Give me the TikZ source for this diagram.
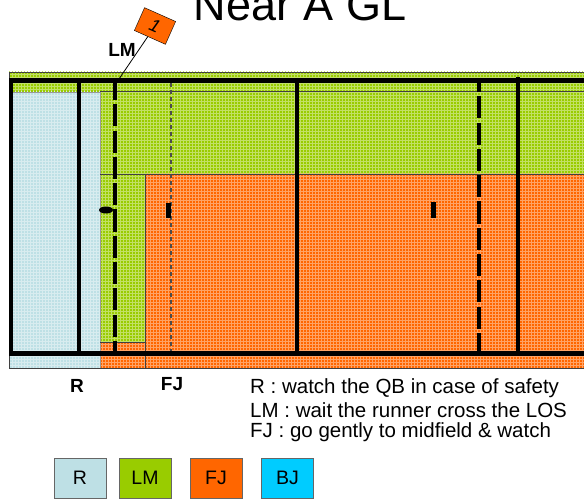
\documentclass[tikz,border=0pt]{standalone}
\usepackage{fontspec}
\setmainfont{Liberation Sans}
\usetikzlibrary{patterns}

\definecolor{rblue}{HTML}{BEE0E5}
\definecolor{lmgreen}{HTML}{99CC00}
\definecolor{fjorange}{HTML}{FF6600}
\definecolor{bjblue}{HTML}{00CCFF}

\begin{document}
\begin{tikzpicture}[x=1pt, y=-1pt,
    zone/.style={fill=#1, postaction={pattern=grid, pattern color=white!40!#1}},
    border/.style={draw=black!75, line width=.8pt},
    bigline/.style={line width=4pt},
    dashline/.style={line width=4pt, dash pattern=on 22pt off 4.3pt},
    legendbox/.style={draw=black!60, line width=1pt, minimum width=52pt, minimum height=40pt,
      inner sep=0pt, font=\fontsize{19.5}{20}\selectfont},
    official/.style={font=\fontsize{19}{20}\selectfont\bfseries},
    note/.style={anchor=west, inner sep=0pt, font=\fontsize{20.5}{22}\selectfont}]
    \useasboundingbox (0,0) rectangle (584,500);

    % 色の領域
    \fill[zone=lmgreen] (9,72) rectangle (586,92);
    \fill[zone=lmgreen] (100,92) rectangle (586,174);
    \fill[zone=lmgreen] (100,174) rectangle (145,342);
    \fill[zone=rblue] (9,92) rectangle (100,368);
    \fill[zone=fjorange] (145,174) rectangle (586,368);
    \fill[zone=fjorange] (100,342) rectangle (145,368);

    % 細い線
    \draw[border] (586,72) -- (9,72) -- (9,368) -- (586,368);
    \draw[border] (100,91) -- (586,91);
    \draw[border, draw=black!40] (9,92) -- (100,92) -- (100,368);
    \draw[border] (100,174) -- (586,174);
    \draw[border] (145,174) -- (145,368);
    \draw[border] (100,342) -- (145,342);

    % 太線
    \draw[line width=5pt] (9,80.5) -- (586,80.5);
    \draw[line width=5pt] (9,353.5) -- (586,353.5);
    \draw[bigline] (11,80) -- (11,356);
    \draw[bigline] (79,80) -- (79,353);
    \draw[bigline] (297,80) -- (297,353);
    \draw[bigline] (517.5,77) -- (517.5,353);
    \draw[dashline] (115,78) -- (115,353);
    \draw[dashline, dash phase=8pt] (479,78) -- (479,353);
    \draw[line width=1.3pt, draw=black!70, dash pattern=on 4pt off 3pt] (171,83) -- (171,351);

    % 審判の位置
    \fill (106,210) ellipse (7pt and 3.5pt);
    \fill (166,203) rectangle (171,218);
    \fill (431,202) rectangle (436,218);

    % タイトルと旗
    \node[anchor=base, font=\fontsize{45}{50}\selectfont] (title) at (300,21) {Near A GL};
    \node[draw, fill=fjorange, rotate=-24, minimum width=34pt, minimum height=25pt, inner sep=0pt,
      font=\fontsize{18}{18}\selectfont\itshape] (flag) at (155,26) {1};
    \coordinate (lmspot) at (119,79);
    \draw[line width=.8pt] (flag) -- (lmspot);
    \node[official] (lmlabel) at (122,50) {LM};

    % 下のラベル
    \node[official] (rlabel) at (77,386) {R};
    \node[official] (fjlabel) at (172,384) {FJ};
    \node[note] (noter) at (250,388) {R : watch the QB in case of safety};
    \node[note] (notelm) at (250,410) {LM : wait the runner cross the LOS};
    \node[note] (notefj) at (250,432) {FJ : go gently to midfield \& watch};

    % 凡例
    \node[legendbox, fill=rblue] (legr) at (80,478) {R};
    \node[legendbox, fill=lmgreen] (leglm) at (145,478) {LM};
    \node[legendbox, fill=fjorange] (legfj) at (216,478) {FJ};
    \node[legendbox, fill=bjblue] (legbj) at (287.5,478) {BJ};
\end{tikzpicture}
\end{document}
